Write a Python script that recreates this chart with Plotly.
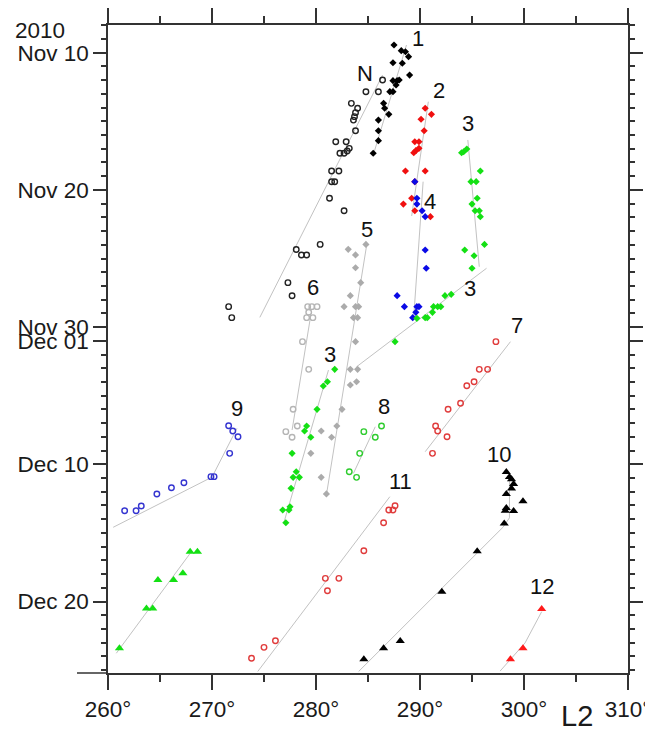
import pandas as pd
import plotly.graph_objects as go

# Time is given as decimal "day of November 2010" (Dec 1 = 31, Dec 20 = 50)
# Longitude is System II (L2) in degrees

# ---- Series 1 (black filled) ----
s1_lon = [287.5, 288.2, 288.6, 288.9, 288.3, 287.4, 289.0, 287.8, 287.4, 288.0, 287.7,
          287.1, 287.4, 286.5, 286.6, 287.0, 286.0, 286.0, 286.0, 285.5]
s1_day = [9.44, 9.85, 9.93, 10.29, 10.77, 10.73, 11.63, 12.04, 12.04, 11.99, 12.35,
          12.84, 12.84, 13.69, 14.05, 14.49, 14.91, 15.69, 16.41, 17.33]
s1_fit_lon = [285.6, 288.7]
s1_fit_day = [17.22, 9.44]

# ---- Series N (black open) ----
sN_lon = [286.4, 284.8, 286.0, 283.4, 284.0, 283.8, 283.7, 283.6, 283.8, 281.9, 282.9,
          283.2, 283.0, 282.3, 282.7, 281.5, 282.2, 281.5, 281.8, 281.3, 282.7, 280.4,
          278.1, 278.6, 279.1, 277.3, 277.7, 271.6, 271.9]
sN_day = [11.99, 12.84, 12.84, 13.69, 14.05, 14.37, 14.66, 14.91, 15.69, 16.49, 16.49,
          16.97, 17.16, 17.33, 17.33, 18.62, 18.62, 19.40, 19.40, 20.61, 21.52, 23.97,
          24.34, 24.74, 24.74, 26.76, 27.71, 28.51, 29.31]
sN_fit_lon = [286.4, 274.6]
sN_fit_day = [11.63, 29.29]

# ---- Series 2 (red filled) ----
s2_lon = [290.5, 291.1, 290.1, 290.4, 289.5, 289.9, 289.9, 289.4, 289.6, 288.6, 290.5,
          289.5, 289.2, 288.4, 289.5, 291.0]
s2_day = [14.05, 14.49, 14.85, 15.69, 16.49, 16.49, 16.97, 17.29, 17.14, 18.62, 18.62,
          19.40, 20.61, 21.03, 21.52, 21.95]
s2_fit_lon = [290.8, 289.2]
s2_fit_day = [13.57, 21.90]

# ---- Series 4 (blue filled) ----
s4_lon = [289.5, 289.7, 289.7, 290.2, 290.5, 290.5, 290.6, 287.8, 288.5, 289.7, 289.9,
          289.6, 289.3]
s4_day = [19.40, 20.61, 21.03, 21.52, 21.95, 24.38, 25.71, 27.71, 28.51, 28.51, 28.51,
          28.92, 29.31]
s4_fit_lon = [290.3, 289.4]
s4_fit_day = [19.40, 29.24]

# ---- Series 3 (green filled), three stretches ----
s3_lon = [294.0, 294.2, 294.5, 295.8, 294.9, 295.4, 295.5, 295.0, 295.3, 295.7, 295.8,
          294.3, 296.2, 295.2, 295.0,
          292.4, 293.0, 291.3, 291.7, 292.0, 291.2, 290.5, 290.7, 289.7, 287.6,
          281.8, 281.1, 280.7, 280.1, 279.1, 278.9, 279.5, 277.7, 278.1, 277.8, 278.4,
          277.6, 277.5, 276.8, 277.4, 277.1]
s3_day = [17.29, 17.22, 17.02, 18.62, 19.40, 19.40, 20.61, 21.03, 21.52, 21.52, 21.95,
          24.38, 23.97, 24.80, 25.71,
          27.71, 27.61, 28.51, 28.51, 28.51, 28.92, 29.31, 29.31, 29.36, 31.06,
          33.08, 33.98, 34.29, 35.99, 37.21, 37.57, 38.03, 39.20, 40.54, 40.95, 40.95,
          41.75, 43.09, 43.33, 43.33, 44.26]
s3a_fit_lon = [294.6, 295.7]
s3a_fit_day = [16.36, 25.60]
s3b_fit_lon = [296.4, 283.9]
s3b_fit_day = [25.71, 32.89]
s3c_fit_lon = [281.2, 276.9]
s3c_fit_day = [33.13, 44.28]

# ---- Series 5 (grey filled) ----
s5_lon = [284.8, 283.1, 283.8, 283.8, 284.3, 283.3, 282.7, 283.8, 284.1, 283.6, 284.0,
          283.8, 283.3, 284.0, 283.3, 283.9, 282.5, 282.0, 280.5, 281.5, 279.5, 280.5, 281.0]
s5_day = [23.97, 24.33, 24.74, 25.67, 26.76, 27.71, 28.51, 28.51, 28.51, 29.31, 29.31,
          31.06, 33.08, 33.08, 34.22, 33.98, 35.99, 37.21, 37.57, 38.03, 39.20, 40.95, 42.16]
s5_fit_lon = [284.9, 281.0]
s5_fit_day = [23.89, 42.24]

# ---- Series 6 (light grey open) ----
s6_lon = [279.2, 279.6, 280.1, 279.3, 279.1, 279.7, 278.7, 279.3, 277.8, 278.2, 277.1, 277.7]
s6_day = [28.51, 28.51, 28.51, 28.92, 29.31, 29.31, 31.06, 33.08, 35.99, 37.21, 37.62, 38.03]
s6_fit_lon = [279.5, 277.7]
s6_fit_day = [29.12, 37.50]

# ---- Series 7 (red open) ----
s7_lon = [297.3, 295.7, 296.5, 294.5, 295.2, 293.9, 292.7, 291.5, 291.7, 292.6, 291.2]
s7_day = [31.06, 33.08, 33.08, 34.27, 33.98, 35.55, 35.99, 37.21, 37.57, 37.99, 39.20]
s7_fit_lon = [298.7, 290.5]
s7_fit_day = [31.06, 39.08]

# ---- Series 8 (green open) ----
s8_lon = [284.6, 286.3, 285.7, 284.2, 283.2, 283.9]
s8_day = [37.62, 37.21, 38.03, 39.20, 40.54, 40.95]
s8_fit_lon = [285.7, 283.6]
s8_fit_day = [37.26, 40.66]

# ---- Series 9 (blue open) ----
s9_lon = [271.6, 272.0, 272.5, 271.7, 269.9, 270.2, 267.3, 266.1, 264.7, 263.2, 262.7, 261.6]
s9_day = [37.19, 37.57, 37.99, 39.20, 40.90, 40.90, 41.34, 41.71, 42.16, 43.04, 43.38, 43.38]
s9_fit_lon = [260.5, 270.0, 272.4]
s9_fit_day = [44.59, 40.93, 37.38]

# ---- Unlabelled green triangles ----
sg_lon = [267.9, 268.6, 264.8, 266.3, 267.2, 263.7, 264.3, 261.1]
sg_day = [46.37, 46.37, 48.43, 48.43, 47.94, 50.50, 50.50, 53.41]
sg_fit_lon = [267.9, 260.8]
sg_fit_day = [46.49, 53.77]

# ---- Series 11 (red open) ----
s11_lon = [287.6, 287.0, 287.4, 286.5, 284.6, 280.9, 282.2, 281.1, 276.1, 275.0, 273.8]
s11_day = [43.02, 43.33, 43.33, 44.26, 46.30, 48.31, 48.31, 49.21, 52.86, 53.34, 54.14]
s11_fit_lon = [287.1, 274.4]
s11_fit_day = [42.36, 55.10]

# ---- Series 10 (black triangles) ----
s10_lon = [298.3, 298.6, 298.8, 299.0, 298.8, 298.3, 299.9, 298.3, 298.2, 299.0, 298.1,
           295.5, 292.1, 288.1, 286.5, 284.6]
s10_day = [40.56, 40.93, 41.09, 41.44, 41.76, 42.16, 42.70, 43.18, 43.38, 43.40, 44.32,
           46.34, 49.29, 52.88, 53.41, 54.20]
s10_fit_lon = [284.1, 298.0, 298.6, 298.6]
s10_fit_day = [55.10, 44.57, 43.90, 40.80]

# ---- Series 12 (red triangles) ----
s12_lon = [301.7, 299.9, 298.7]
s12_day = [50.55, 53.41, 54.20]
s12_fit_lon = [301.7, 300.1, 297.7]
s12_fit_day = [50.74, 53.02, 55.07]

# ---- Labels ----
label_text = ["1", "N", "2", "3", "4", "5", "3", "6", "7", "3", "8", "9", "10", "11", "12"]
label_lon = [289.8, 284.7, 291.8, 294.6, 291.0, 284.9, 294.8, 279.7, 299.3, 281.3, 286.5,
             272.4, 297.6, 288.1, 301.7]
label_day = [8.95, 11.50, 12.77, 15.15, 20.86, 22.92, 27.17, 27.10, 29.85, 32.03, 35.75,
             35.92, 39.32, 41.27, 48.92]

# ---- Axes ----
y_tick_days = [10, 20, 30, 31, 40, 50]
y_tick_text = ["Nov 10", "Nov 20", "Nov 30", "Dec 01", "Dec 10", "Dec 20"]
y_range_days = [55.21, 7.98]
x_range = [260, 310]

BASE = pd.Timestamp("2010-10-31")


def to_date(days):
    return [BASE + pd.Timedelta(days=d) for d in days]


FONT = "Liberation Sans, Arial, sans-serif"
FIT_COLOR = "#c2c2c2"
TXT = "#1a1a1a"

fig = go.Figure()

fits = [
    (s1_fit_lon, s1_fit_day), (sN_fit_lon, sN_fit_day), (s2_fit_lon, s2_fit_day),
    (s4_fit_lon, s4_fit_day), (s3a_fit_lon, s3a_fit_day), (s3b_fit_lon, s3b_fit_day),
    (s3c_fit_lon, s3c_fit_day), (s5_fit_lon, s5_fit_day), (s6_fit_lon, s6_fit_day),
    (s7_fit_lon, s7_fit_day), (s8_fit_lon, s8_fit_day), (s9_fit_lon, s9_fit_day),
    (sg_fit_lon, sg_fit_day), (s11_fit_lon, s11_fit_day), (s10_fit_lon, s10_fit_day),
    (s12_fit_lon, s12_fit_day),
]
for lon, day in fits:
    fig.add_trace(go.Scatter(x=lon, y=to_date(day), mode="lines",
                             line=dict(color=FIT_COLOR, width=1), hoverinfo="skip"))

series = [
    # lon, day, symbol, color, size, open
    (sN_lon, sN_day, "circle-open", "#222222", 5.5, True),
    (s6_lon, s6_day, "circle-open", "#b5b5b5", 5.5, True),
    (s5_lon, s5_day, "diamond", "#ababab", 5.5, False),
    (s1_lon, s1_day, "diamond", "#000000", 5.5, False),
    (s2_lon, s2_day, "diamond", "#f01010", 5.5, False),
    (s4_lon, s4_day, "diamond", "#0a0ae6", 5.5, False),
    (s3_lon, s3_day, "diamond", "#14e014", 5.5, False),
    (s7_lon, s7_day, "circle-open", "#e03c3c", 5.5, True),
    (s8_lon, s8_day, "circle-open", "#2ecc2e", 5.5, True),
    (s9_lon, s9_day, "circle-open", "#3434d0", 5.5, True),
    (s11_lon, s11_day, "circle-open", "#e03c3c", 5.5, True),
    (sg_lon, sg_day, "triangle-up", "#14e014", 8, False),
    (s10_lon, s10_day, "triangle-up", "#000000", 8, False),
    (s12_lon, s12_day, "triangle-up", "#ff1a1a", 8, False),
]
for lon, day, sym, col, size, is_open in series:
    marker = dict(symbol=sym, color=col, size=size)
    if is_open:
        marker["line"] = dict(color=col, width=1.4)
    else:
        marker["line"] = dict(width=0)
    fig.add_trace(go.Scatter(x=lon, y=to_date(day), mode="markers", marker=marker))

for t, lo, d in zip(label_text, label_lon, label_day):
    fig.add_annotation(x=lo, y=to_date([d])[0], text=t, showarrow=False,
                       font=dict(family=FONT, size=22, color="#111111"),
                       xanchor="center", yanchor="middle")

fig.add_annotation(xref="paper", yref="paper", x=-0.1317, y=0.991, text="2010",
                   showarrow=False, xanchor="center", yanchor="middle",
                   font=dict(family=FONT, size=22.5, color=TXT))
fig.add_annotation(xref="paper", yref="paper", x=0.902, y=-0.0664, text="L2",
                   showarrow=False, xanchor="center", yanchor="middle",
                   font=dict(family=FONT, size=29, color=TXT))

AX = "#333333"
fig.add_shape(type="line", xref="paper", yref="paper", x0=-0.0596, x1=0, y0=0, y1=0,
              line=dict(color=AX, width=1.5))
fig.add_shape(type="line", xref="paper", yref="paper", x0=1, x1=1, y0=1, y1=1.0185,
              line=dict(color=AX, width=1.5))
fig.add_shape(type="line", xref="paper", yref="paper", x0=1, x1=1, y0=-0.0216, y1=0,
              line=dict(color=AX, width=1.5))

fig.update_xaxes(range=x_range, showgrid=False, zeroline=False, showline=True,
                 automargin=False,
                 linecolor=AX, linewidth=1.5, mirror="ticks", ticks="outside",
                 ticklen=15, tickwidth=1.5, tickcolor=AX, tickmode="linear", tick0=260,
                 dtick=10, ticksuffix="°",
                 tickfont=dict(family=FONT, size=22.5, color=TXT),
                 minor=dict(ticks="outside", ticklen=7, tickwidth=1.5, tickcolor=AX,
                            tickmode="linear", tick0=260, dtick=5, showgrid=False))
fig.update_yaxes(type="date", range=to_date(y_range_days), showgrid=False, zeroline=False,
                 automargin=False,
                 showline=True, linecolor=AX, linewidth=1.5, mirror="ticks",
                 ticks="outside", ticklen=13, tickwidth=1.5, tickcolor=AX,
                 tickmode="array", tickvals=to_date(y_tick_days), ticktext=y_tick_text,
                 tickfont=dict(family=FONT, size=22.5, color=TXT),
                 minor=dict(ticks="outside", ticklen=5, tickwidth=1.5, tickcolor=AX,
                            tickmode="linear", tick0="2010-11-01", dtick=86400000,
                            showgrid=False))

# The page places the figure 8 px in from the top-left corner; margins compensate.
fig.update_layout(template="none", width=645, height=724, showlegend=False,
                  paper_bgcolor="white", plot_bgcolor="white",
                  margin=dict(l=100, r=25, t=17, b=59, autoexpand=False))

fig.write_html("out.html")
